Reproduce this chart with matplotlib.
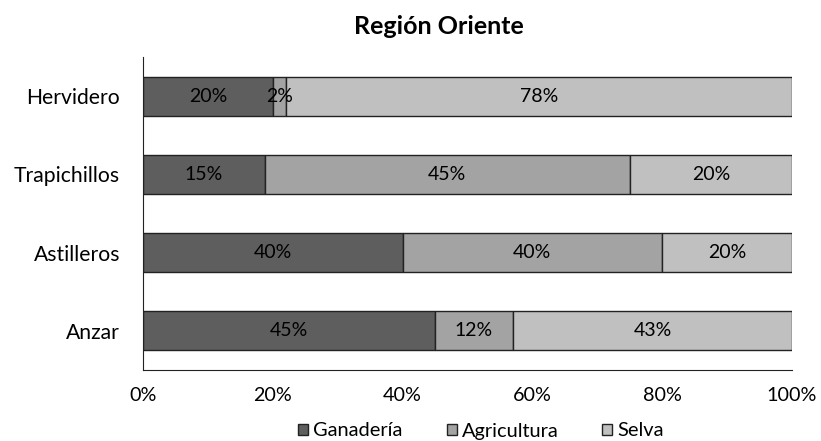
import matplotlib
matplotlib.use("Agg")
import matplotlib.pyplot as plt
import numpy as np

categories = ["Anzar", "Astilleros", "Trapichillos", "Hervidero"]
series_names = ["Ganadería", "Agricultura", "Selva"]
ganaderia = [45, 40, 15, 20]
agricultura = [12, 40, 45, 2]
selva = [43, 20, 20, 78]
x_ticks = [0, 20, 40, 60, 80, 100]
x_tick_labels = ["0%", "20%", "40%", "60%", "80%", "100%"]

colors = ["#5e5e5e", "#a3a3a3", "#c0c0c0"]

plt.rcParams['font.family'] = ['Lato', 'DejaVu Sans']

fig = plt.figure(figsize=(8.21, 4.41), dpi=100)
ax = fig.add_axes([143/821, 1 - 370/441, (792-143)/821, (370-57)/441])

data = np.array([ganaderia, agricultura, selva], dtype=float)
totals = data.sum(axis=0)
pct = data / totals * 100
y = np.arange(len(categories))
left = np.zeros(len(categories))
for i, name in enumerate(series_names):
    ax.barh(y, pct[i], left=left, height=0.5, color=colors[i],
            edgecolor="#222222", linewidth=1.0, label=name)
    for j in range(len(categories)):
        ax.text(left[j] + pct[i][j] / 2, y[j], f"{int(data[i][j])}%",
                ha="center", va="center", fontsize=14, color="black")
    left += pct[i]

ax.set_xlim(0, 100)
ax.set_ylim(-0.5, len(categories) - 0.5)
ax.set_yticks(y)
ax.set_yticklabels(categories, fontsize=15.2)
ax.set_xticks(x_ticks)
ax.set_xticklabels(x_tick_labels, fontsize=14.2)
ax.tick_params(axis="both", length=0)
ax.tick_params(axis="y", pad=16.5)
ax.tick_params(axis="x", pad=12.5)
for s in ["top", "right"]:
    ax.spines[s].set_visible(False)
ax.spines["left"].set_color("#222222")
ax.spines["bottom"].set_color("#222222")

fig.text(439/821, 1 - 26/441, "Región Oriente", ha="center", va="center",
         fontsize=18, fontweight="bold")

fig.legend(loc="center", bbox_to_anchor=(481/821, 1 - 431/441), ncol=3,
           frameon=False, fontsize=14.4, handlelength=0.5, handleheight=0.5,
           handletextpad=0.25, columnspacing=2.2)

fig.savefig("out.png", dpi=100)
